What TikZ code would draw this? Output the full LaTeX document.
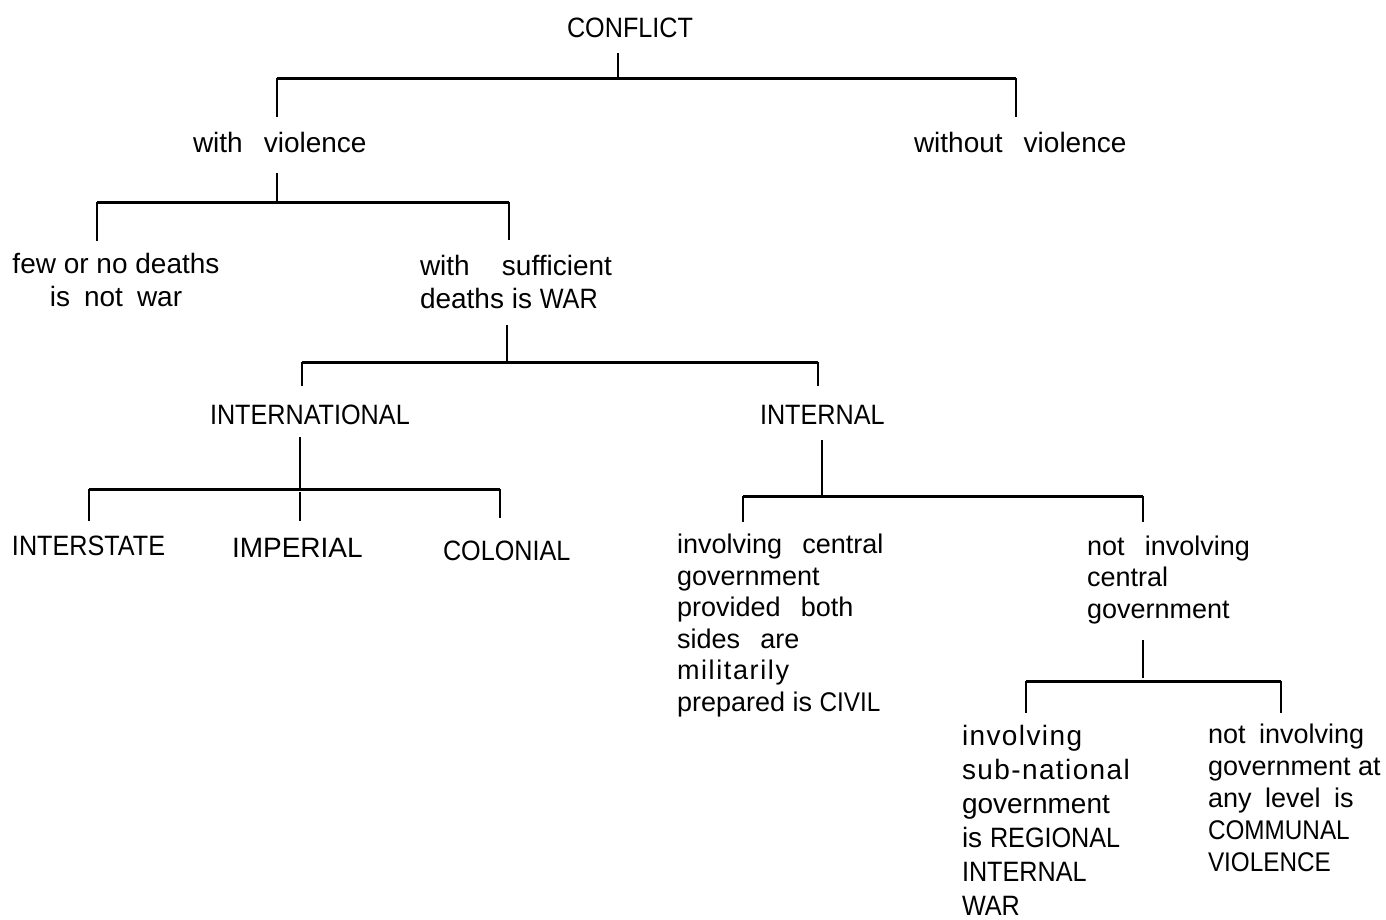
\documentclass[tikz,border=0pt]{standalone}
\usepackage{fontspec}
\setmainfont{Liberation Sans}
\newfontfamily\capsf[FakeStretch=0.9]{Liberation Sans}
\newcommand\wsp{\hspace{0.75em}}
\newcommand\mwsp{\hspace{0.5em}}
\newcommand\xwsp{\hspace{1.15em}}
\begin{document}
\begin{tikzpicture}[x=1pt,y=-1pt,
  lbl/.style={inner sep=0pt, outer sep=0pt, font=\fontsize{28}{33}\selectfont},
  lblb/.style={inner sep=0pt, outer sep=0pt, align=left, font=\fontsize{27}{31.5}\selectfont},
  bar/.style={line width=3pt},
  stem/.style={line width=2.4pt}]
\useasboundingbox (0,0) rectangle (1386,919);

% ---- labels (multi-line nodes: base = baseline of last line) ----
\node[lbl,anchor=base west] (conflict) at (567,37) {\capsf CONFLICT};
\node[lbl,anchor=base west] (wv) at (193,152) {with\wsp violence};
\node[lbl,anchor=base west] (wov) at (914,152) {without\wsp violence};
\node[lbl,anchor=base,align=center] (few) at (116,306) {few or no deaths\\is\mwsp not\mwsp war};
\node[lbl,anchor=base west,align=left] (suff) at (420,308) {with\xwsp sufficient\\deaths is {\capsf WAR}};
\node[lbl,anchor=base west] (intl) at (210,424) {\capsf INTERNATIONAL};
\node[lbl,anchor=base west] (internal) at (760,424) {\capsf INTERNAL};
\node[lbl,anchor=base west] (interstate) at (12,555) {\capsf INTERSTATE};
\node[lbl,anchor=base west] (imperial) at (232,557) {IMPERIAL};
\node[lbl,anchor=base west] (colonial) at (443,560) {\capsf COLONIAL};
\node[lblb,anchor=base west] (civil) at (677,711) {involving\wsp central\\government\\provided\wsp both\\sides\wsp are\\{\addfontfeature{LetterSpace=6}militarily}\\prepared is {\capsf CIVIL}};
\node[lblb,anchor=base west] (notcent) at (1087,618) {not\wsp involving\\central\\government};
\node[lbl,anchor=base west,align=left,font=\fontsize{28}{34}\selectfont] (regional) at (962,915) {{\addfontfeature{LetterSpace=5}involving}\\{\addfontfeature{LetterSpace=5}sub-national}\\government\\is {\capsf REGIONAL}\\{\capsf INTERNAL}\\{\capsf WAR}};
\node[lblb,anchor=base west,font=\fontsize{27}{32}\selectfont] (communal) at (1208,871) {not\mwsp involving\\government at\\any\mwsp level\mwsp is\\{\capsf COMMUNAL}\\{\capsf VIOLENCE}};

% ---- connector points ----
\coordinate (p1) at (618,53);  \coordinate (j1) at (618,78);
\coordinate (l1) at (277,78);  \coordinate (r1) at (1016,78);
\coordinate (la1) at (277,117); \coordinate (ra1) at (1016,117);

\coordinate (p2) at (277,173); \coordinate (j2) at (277,202);
\coordinate (l2) at (97,202);  \coordinate (r2) at (509,202);
\coordinate (la2) at (97,241); \coordinate (ra2) at (509,240);

\coordinate (p3) at (507,325); \coordinate (j3) at (507,362);
\coordinate (l3) at (302,362); \coordinate (r3) at (818,362);
\coordinate (la3) at (302,386); \coordinate (ra3) at (818,386);

\coordinate (p4) at (300,437); \coordinate (j4) at (300,489);
\coordinate (l4) at (89,489);  \coordinate (r4) at (500,489);
\coordinate (m4) at (300,492); \coordinate (ma4) at (300,521);
\coordinate (la4) at (89,521); \coordinate (ra4) at (500,518);

\coordinate (p5) at (822,440); \coordinate (j5) at (822,496);
\coordinate (l5) at (743,496); \coordinate (r5) at (1143,496);
\coordinate (la5) at (743,522); \coordinate (ra5) at (1143,522);

\coordinate (p6) at (1143,640); \coordinate (j6) at (1143,678);
\coordinate (l6) at (1026,681); \coordinate (r6) at (1281,681);
\coordinate (la6) at (1026,713); \coordinate (ra6) at (1281,713);

% ---- connectors ----
\foreach \i in {1,...,6} {
  \draw[stem] (p\i) -- (j\i);
  \draw[bar] (l\i) -- (r\i);
  \draw[stem] (l\i) -- (la\i);
  \draw[stem] (r\i) -- (ra\i);
}
\draw[stem] (m4) -- (ma4);
\end{tikzpicture}
\end{document}
